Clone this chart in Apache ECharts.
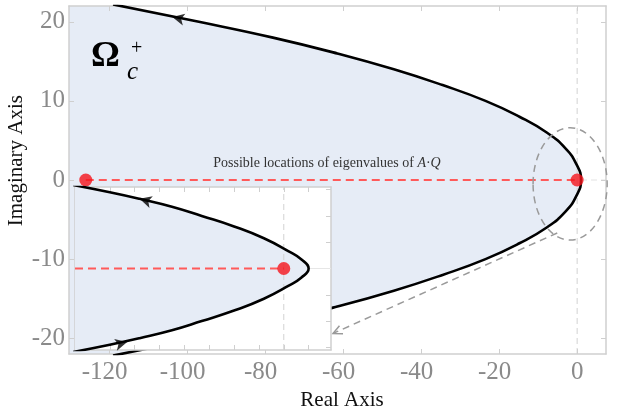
<!DOCTYPE html>
<html><head><meta charset="utf-8">
<script src="https://cdn.jsdelivr.net/npm/echarts@6/dist/echarts.min.js"></script>
<style>html,body{margin:0;padding:0;background:#fff}#c{width:617px;height:414px}</style>
</head><body><div id="c"></div>
<script>
// ---- data ----
// main boundary curve of the region (real part, imaginary part)
const mainReal = [-119, -97, -78, -61.5, -47, -34.5, -23.5, -14.8, -7.8, -3.0, -0.2, 1.0, -0.2, -3.0, -7.8, -14.8, -23.5, -34.5, -47, -61.5, -78, -97, -119];
const mainImag = [22.2, 20, 18, 16, 14, 12, 10, 8, 6, 4, 2, 0, -2, -4, -6, -8, -10, -12, -14, -16, -18, -20, -22.2];
// zoomed inset curve
const insetReal = [-8.6, -7.0, -5.8, -4.5, -3.3, -2.0, -0.8, 0.2, 0.7, 1.0, 0.7, 0.2, -0.8, -2.0, -3.3, -4.5, -5.8, -7.0, -8.6];
const insetImag = [6.4, 5.8, 5.3, 4.7, 4.0, 3.2, 2.3, 1.3, 0.7, 0, -0.7, -1.3, -2.3, -3.2, -4.0, -4.7, -5.3, -5.8, -6.4];
// eigenvalue locations
const eigMain = [[-126, 0], [0, 0]];
const eigInset = [[0, 0]];
// direction arrows on the curves
const arrowMain = [[-103.8, 20.6]];
const arrowInsetUp = [[-5.8, 5.3]];
const arrowInsetDown = [[-6.3, -5.6]];
// tick labels
const xTicks = [-120, -100, -80, -60, -40, -20, 0];
const yTicks = [-20, -10, 0, 10, 20];
const ixTicks = [-8, -7, -6, -5, -4, -3, -2, -1, 0, 1];
const iyTicks = [-6, -4, -2, 0, 2, 4, 6];

const mainCurve = mainReal.map((x, i) => [x, mainImag[i]]);
const insetCurve = insetReal.map((x, i) => [x, insetImag[i]]);

const serif = '"Liberation Serif", "Times New Roman", serif';
const X_MIN = -130.3, X_MAX = 7.4, Y_MIN = -22, Y_MAX = 22;
const IX_MIN = -8.4, IX_MAX = 1.9, IY_MIN = -6.2, IY_MAX = 6.2;
const FRAME = '#cfcfcf';
const FILL = '#e6ecf6';

function fillItem(curve, xmin) {
  return function (params, api) {
    const pts = curve.map(p => api.coord(p));
    pts.push(api.coord([xmin - 1, curve[curve.length - 1][1]]));
    pts.push(api.coord([xmin - 1, curve[0][1]]));
    return { type: 'polygon', shape: { points: pts }, style: { fill: FILL } };
  };
}

const tickLabel = {
  fontFamily: serif, fontSize: 25, color: '#8a8a8a'
};

function frameAxis(pos, gridIndex, min, max, ticks, z, showLabel, extraLabel) {
  return {
    type: 'value', gridIndex: gridIndex, position: pos, min: min, max: max, z: z,
    axisLine: { show: true, onZero: false, lineStyle: { color: FRAME, width: 1.5 } },
    axisTick: { show: true, inside: true, length: 5, customValues: ticks, lineStyle: { color: FRAME, width: 1 } },
    splitLine: { show: false },
    axisLabel: Object.assign({ show: showLabel, customValues: ticks }, extraLabel || {})
  };
}

const option = {
  animation: false,
  backgroundColor: '#fff',
  grid: [
    { left: 69, top: 6, width: 537, height: 348, outerBoundsMode: 'none' },
    { left: 75, top: 187, width: 256, height: 163, show: true, backgroundColor: '#fff', borderWidth: 0, z: 10, outerBoundsMode: 'none' }
  ],
  xAxis: [
    Object.assign(frameAxis('bottom', 0, X_MIN, X_MAX, xTicks, 3, true, {
      margin: 6,
      formatter: v => v < 0 ? '{m|' + v + '}{s| }' : '{m|' + v + '}',
      rich: { m: tickLabel, s: { width: 9, fontSize: 25, fontFamily: serif } }
    }), {
      name: 'Real Axis', nameLocation: 'middle', nameGap: 32,
      nameTextStyle: { fontFamily: serif, fontSize: 21, color: '#111', padding: [0, 0, 0, 9] }
    }),
    frameAxis('top', 0, X_MIN, X_MAX, xTicks, 3, false),
    frameAxis('bottom', 1, IX_MIN, IX_MAX, ixTicks, 11, false),
    frameAxis('top', 1, IX_MIN, IX_MAX, ixTicks, 11, false)
  ],
  yAxis: [
    frameAxis('left', 0, Y_MIN, Y_MAX, yTicks, 3, true, Object.assign({ margin: 4 }, tickLabel)),
    frameAxis('right', 0, Y_MIN, Y_MAX, yTicks, 3, false),
    frameAxis('left', 1, IY_MIN, IY_MAX, iyTicks, 11, false),
    frameAxis('right', 1, IY_MIN, IY_MAX, iyTicks, 11, false)
  ],
  series: [
    // ---- main plot ----
    { type: 'custom', xAxisIndex: 0, yAxisIndex: 0, z: 1, clip: true, silent: true,
      data: [[0, 0]], renderItem: fillItem(mainCurve, X_MIN) },
    { type: 'line', xAxisIndex: 0, yAxisIndex: 0, z: 2, symbol: 'none', silent: true,
      data: [[0, Y_MIN], [0, Y_MAX]], lineStyle: { color: '#d2d2d2', width: 1, type: [6, 4] } },
    { type: 'line', xAxisIndex: 0, yAxisIndex: 0, z: 2, symbol: 'none', silent: true,
      data: [[1, 0], [X_MAX, 0]], lineStyle: { color: '#e2e2e2', width: 1, type: [6, 4] } },
    { type: 'line', xAxisIndex: 0, yAxisIndex: 0, z: 4, symbol: 'none', smooth: true, silent: true,
      data: mainCurve, lineStyle: { color: '#000', width: 2.6 } },
    { type: 'line', xAxisIndex: 0, yAxisIndex: 0, z: 5, symbol: 'none', silent: true,
      data: eigMain, lineStyle: { color: '#ff5a5a', width: 1.8, type: [8, 5] } },
    { type: 'scatter', xAxisIndex: 0, yAxisIndex: 0, z: 6, symbolSize: 13, silent: true,
      data: eigMain, itemStyle: { color: '#f5141b' } },
    { type: 'scatter', xAxisIndex: 0, yAxisIndex: 0, z: 6, symbol: 'arrow', symbolSize: [9, 12], symbolRotate: 78, silent: true,
      data: arrowMain, itemStyle: { color: '#000' } },
    // zoom ellipse and pointer arrow
    { type: 'custom', xAxisIndex: 0, yAxisIndex: 0, z: 6, silent: true,
      data: [[-1.8, -0.5]],
      renderItem: function (params, api) {
        const c = api.coord([api.value(0), api.value(1)]);
        const s = api.size([9.5, 7.1]);
        return { type: 'ellipse', shape: { cx: c[0], cy: c[1], rx: s[0], ry: s[1] },
          style: { fill: 'none', stroke: '#9a9a9a', lineWidth: 1.5, lineDash: [7, 5] } };
      } },
    { type: 'custom', xAxisIndex: 0, yAxisIndex: 0, z: 6, silent: true,
      data: [[-5.1, -6.7, -62.6, -19.4]],
      renderItem: function (params, api) {
        const a = api.coord([api.value(0), api.value(1)]);
        const b = api.coord([api.value(2), api.value(3)]);
        const ang = Math.atan2(a[1] - b[1], a[0] - b[0]);
        const L = 10, w = 0.45;
        const p1 = [b[0] + L * Math.cos(ang + w), b[1] + L * Math.sin(ang + w)];
        const p2 = [b[0] + L * Math.cos(ang - w), b[1] + L * Math.sin(ang - w)];
        return { type: 'group', children: [
          { type: 'line', shape: { x1: a[0], y1: a[1], x2: b[0], y2: b[1] },
            style: { stroke: '#9a9a9a', lineWidth: 1.5, lineDash: [7, 5] } },
          { type: 'polyline', shape: { points: [p1, b, p2] },
            style: { stroke: '#9a9a9a', lineWidth: 1.5, fill: 'none' } }
        ] };
      } },
    // ---- inset ----
    { type: 'custom', xAxisIndex: 2, yAxisIndex: 2, z: 12, clip: true, silent: true,
      data: [[0, 0]], renderItem: fillItem(insetCurve, IX_MIN) },
    { type: 'line', xAxisIndex: 2, yAxisIndex: 2, z: 13, symbol: 'none', silent: true,
      data: [[0, IY_MIN], [0, IY_MAX]], lineStyle: { color: '#d2d2d2', width: 1, type: [6, 4] } },
    { type: 'line', xAxisIndex: 2, yAxisIndex: 2, z: 13, symbol: 'none', silent: true,
      data: [[1, 0], [IX_MAX, 0]], lineStyle: { color: '#e6e6e6', width: 1 } },
    { type: 'line', xAxisIndex: 2, yAxisIndex: 2, z: 14, symbol: 'none', smooth: true, silent: true,
      data: insetCurve, lineStyle: { color: '#000', width: 2.6 } },
    { type: 'line', xAxisIndex: 2, yAxisIndex: 2, z: 15, symbol: 'none', silent: true,
      data: [[IX_MIN, 0], [0, 0]], lineStyle: { color: '#ff5a5a', width: 1.8, type: [8, 5] } },
    { type: 'scatter', xAxisIndex: 2, yAxisIndex: 2, z: 16, symbolSize: 13, silent: true,
      data: eigInset, itemStyle: { color: '#f5141b' } },
    { type: 'scatter', xAxisIndex: 2, yAxisIndex: 2, z: 16, symbol: 'arrow', symbolSize: [9, 12], symbolRotate: 74, silent: true,
      data: arrowInsetUp, itemStyle: { color: '#000' } },
    { type: 'scatter', xAxisIndex: 2, yAxisIndex: 2, z: 16, symbol: 'arrow', symbolSize: [9, 12], symbolRotate: -77, silent: true,
      data: arrowInsetDown, itemStyle: { color: '#000' } }
  ],
  graphic: [
    { type: 'text', z: 50, left: 17 - 11, top: 163 - 68, rotation: Math.PI / 2, silent: true,
      style: { text: 'Imaginary Axis', fontFamily: serif, fontSize: 21, fill: '#111' } },
    { type: 'text', z: 50, x: 91, y: 57, silent: true,
      style: { text: 'Ω', fontFamily: serif, fontSize: 36, fontWeight: 'bold', fill: '#000', verticalAlign: 'middle', align: 'left' } },
    { type: 'text', z: 50, x: 127, y: 72, silent: true,
      style: { text: 'c', fontFamily: serif, fontSize: 25, fontStyle: 'italic', fill: '#000', verticalAlign: 'middle', align: 'left' } },
    { type: 'text', z: 50, x: 131, y: 49, silent: true,
      style: { text: '+', fontFamily: serif, fontSize: 20, fill: '#000', verticalAlign: 'middle', align: 'left' } },
    { type: 'text', z: 50, x: 327, y: 163, silent: true,
      style: {
        text: '{n|Possible locations of eigenvalues of }{i|A}{n|·}{i|Q}',
        align: 'center', verticalAlign: 'middle',
        rich: {
          n: { fontFamily: serif, fontSize: 14, fill: '#333' },
          i: { fontFamily: serif, fontSize: 14, fontStyle: 'italic', fill: '#333' }
        }
      } }
  ]
};
const chart = echarts.init(document.getElementById('c'));
chart.setOption(option);
</script>
</body></html>
